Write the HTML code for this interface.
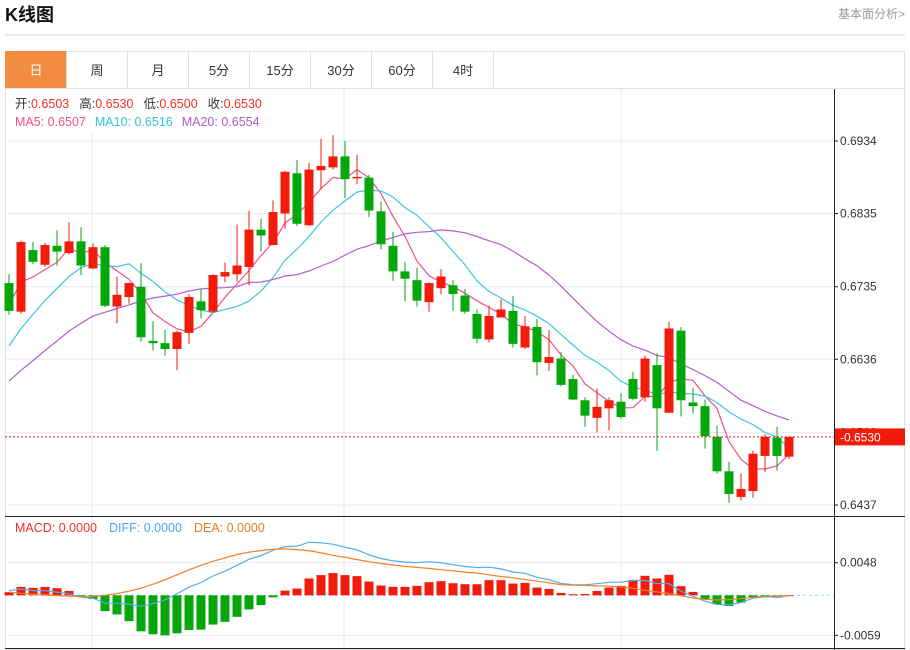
<!DOCTYPE html>
<html><head><meta charset="utf-8">
<style>
body{margin:0;background:#fff;width:910px;height:650px;overflow:hidden;font-family:"Liberation Sans","Noto Sans CJK SC",sans-serif;}
svg{display:block}
</style></head>
<body>
<svg id="c" width="910" height="650" xmlns="http://www.w3.org/2000/svg">
<text x="5" y="21" font-size="18" font-weight="bold" fill="#111" font-family="Liberation Sans,Noto Sans CJK SC,sans-serif">K线图</text>
<text x="905" y="18" font-size="12" fill="#999" text-anchor="end" font-family="Liberation Sans,Noto Sans CJK SC,sans-serif">基本面分析&gt;</text>
<line x1="5" y1="35" x2="905" y2="35" stroke="#d6d6d6"/>
<rect x="5.5" y="51.5" width="899" height="598" fill="none" stroke="#e0e0e0"/>
<g id="tabs" font-size="13" fill="#333" font-family="Liberation Sans,Noto Sans CJK SC,sans-serif"></g>
<line x1="5" y1="88.5" x2="905" y2="88.5" stroke="#e0e0e0"/>
<g id="grid"></g>
<g id="ma"></g>
<g id="candles"></g>
<g id="macd"></g>
<g id="axis" font-size="12" fill="#333"></g>
<rect x="6" y="90" width="294" height="42" fill="#fff"/>
<text x="15" y="108" font-size="12.5" font-family="Liberation Sans,Noto Sans CJK SC,sans-serif"><tspan fill="#333">开:</tspan><tspan fill="#f0302a">0.6503</tspan><tspan fill="#333" dx="10">高:</tspan><tspan fill="#f0302a">0.6530</tspan><tspan fill="#333" dx="10">低:</tspan><tspan fill="#f0302a">0.6500</tspan><tspan fill="#333" dx="10">收:</tspan><tspan fill="#f0302a">0.6530</tspan></text>
<text x="15" y="126" font-size="12.5" font-family="Liberation Sans,sans-serif"><tspan fill="#f0508a">MA5: 0.6507</tspan><tspan fill="#2ec6dc" dx="9">MA10: 0.6516</tspan><tspan fill="#b05cc8" dx="9">MA20: 0.6554</tspan></text>
<text x="15" y="532" font-size="12.5" font-family="Liberation Sans,sans-serif"><tspan fill="#f0302a">MACD: 0.0000</tspan><tspan fill="#4aa6f0" dx="12">DIFF: 0.0000</tspan><tspan fill="#f07a20" dx="12">DEA: 0.0000</tspan></text>
</svg>
<script>
const opens=[0.6740,0.6701,0.6785,0.6765,0.6791,0.6781,0.6797,0.6760,0.6789,0.6708,0.6721,0.6735,0.6661,0.6658,0.6650,0.6672,0.6715,0.6701,0.6749,0.6752,0.6762,0.6813,0.6792,0.6835,0.6890,0.6819,0.6894,0.6898,0.6913,0.6883,0.6884,0.6838,0.6791,0.6756,0.6744,0.6714,0.6733,0.6737,0.6723,0.6698,0.6663,0.6693,0.6702,0.6652,0.6680,0.6631,0.6637,0.6609,0.6580,0.6556,0.6569,0.6578,0.6609,0.6584,0.6628,0.6563,0.6675,0.6577,0.6572,0.6530,0.6483,0.6448,0.6456,0.6504,0.6529,0.6503];
const highs=[0.6752,0.6798,0.6796,0.6795,0.6812,0.6823,0.6816,0.6794,0.6792,0.6749,0.6741,0.6767,0.6688,0.6676,0.6675,0.6725,0.6732,0.6752,0.6768,0.6820,0.6839,0.6828,0.6853,0.6893,0.6908,0.6904,0.6937,0.6942,0.6934,0.6915,0.6888,0.6851,0.6810,0.6769,0.6761,0.6741,0.6759,0.6744,0.6732,0.6704,0.6709,0.6718,0.6722,0.6695,0.6691,0.6676,0.6646,0.6615,0.6584,0.6596,0.6584,0.6590,0.6619,0.6641,0.6644,0.6687,0.6680,0.6597,0.6581,0.6545,0.6496,0.6480,0.6511,0.6534,0.6544,0.6530];
const lows=[0.6697,0.6698,0.6766,0.6762,0.6764,0.6779,0.6751,0.6759,0.6707,0.6685,0.6712,0.6660,0.6648,0.6641,0.6621,0.6657,0.6692,0.6700,0.6741,0.6742,0.6737,0.6783,0.6792,0.6814,0.6818,0.6818,0.6868,0.6895,0.6856,0.6875,0.6830,0.6786,0.6743,0.6715,0.6708,0.6701,0.6725,0.6702,0.6698,0.6658,0.6659,0.6693,0.6652,0.6650,0.6614,0.6620,0.6599,0.6580,0.6544,0.6536,0.6539,0.6555,0.6580,0.6578,0.6511,0.6563,0.6558,0.6562,0.6514,0.6480,0.6440,0.6443,0.6447,0.6482,0.6484,0.6500];
const closes=[0.6702,0.6796,0.6769,0.6792,0.6783,0.6797,0.6764,0.6789,0.6709,0.6724,0.6740,0.6666,0.6658,0.6650,0.6673,0.6721,0.6703,0.6751,0.6755,0.6764,0.6813,0.6805,0.6837,0.6892,0.6821,0.6895,0.6900,0.6913,0.6882,0.6885,0.6839,0.6793,0.6756,0.6746,0.6716,0.6740,0.6749,0.6725,0.6701,0.6664,0.6695,0.6704,0.6657,0.6681,0.6632,0.6639,0.6601,0.6581,0.6559,0.6571,0.6580,0.6557,0.6582,0.6637,0.6569,0.6678,0.6580,0.6572,0.6531,0.6483,0.6452,0.6459,0.6507,0.6530,0.6504,0.6530];
const priorCloses=[0.6500,0.6505,0.6515,0.6520,0.6530,0.6550,0.6590,0.6610,0.6620,0.6640,0.6560,0.6575,0.6600,0.6620,0.6635,0.6641,0.6734,0.6742,0.6733];
const macdHist=[0.00045,0.00124,0.00109,0.00124,0.00104,0.00064,-0.00015,-0.00054,-0.00233,-0.00282,-0.00381,-0.0053,-0.00574,-0.00589,-0.0056,-0.0051,-0.00505,-0.00431,-0.00391,-0.00317,-0.00208,-0.00144,-0.0003,0.00069,0.00099,0.00248,0.00297,0.00327,0.00297,0.00282,0.00203,0.00144,0.00124,0.00124,0.00139,0.00193,0.00208,0.00178,0.00163,0.00163,0.00223,0.00223,0.00173,0.00183,0.00114,0.00094,0.00035,0.00015,0.0002,0.00064,0.00114,0.00139,0.00228,0.00287,0.00248,0.00302,0.00134,0.0005,-0.00054,-0.00134,-0.00158,-0.00109,-0.00025,-0.00015,-0.00035,0];
const deaVals=[0.00045,0.0003,0.00015,0.00005,-0.00005,-0.0001,-0.0002,-0.00015,0,0.00025,0.0006,0.00104,0.00163,0.00228,0.00302,0.00376,0.00441,0.005,0.0055,0.006,0.00634,0.00658,0.00678,0.00683,0.00673,0.00658,0.00624,0.00589,0.00559,0.00525,0.00495,0.0047,0.00446,0.00426,0.00411,0.00396,0.00376,0.00361,0.00342,0.00327,0.00302,0.00277,0.00257,0.00233,0.00208,0.00183,0.00158,0.00149,0.00144,0.00139,0.00134,0.00124,0.00104,0.00074,0.0005,0.0002,-0.00005,-0.0004,-0.0006,-0.00069,-0.00064,-0.0005,-0.0003,-0.00015,-0.0001,-0.00005];
const priceTicks=[0.6934,0.6835,0.6735,0.6636,0.6536,0.6437];
const macdTicks=[0.0048,-0.0059];
const tabLabels=["日","周","月","5分","15分","30分","60分","4时"];

const NS="http://www.w3.org/2000/svg";
function mk(tag,attrs,parent){const e=document.createElementNS(NS,tag);for(const k in attrs)e.setAttribute(k,attrs[k]);parent.appendChild(e);return e;}
const xOf=i=>9+i*12;
const yP=p=>141+(0.6934-p)*(364/0.0497);
const yM=v=>595.3-v*(72.7/0.0107);
const RED="#f01b0a",GREEN="#05a70b";

const tabs=document.getElementById('tabs');
tabLabels.forEach((t,i)=>{
  const x=5+i*61;
  const r=mk('rect',{x:x+0.5,y:51.5,width:61,height:37,fill:i===0?'#f28c40':'#fff',stroke:i===0?'#f28c40':'#e0e0e0'},tabs);
  
  
  const tx=mk('text',{x:x+31,y:75,'text-anchor':'middle',fill:i===0?'#fff':'#333'},tabs);
  
  
  tx.textContent=t;
});

const grid=document.getElementById('grid');
priceTicks.forEach(p=>{mk('line',{x1:5,x2:834,y1:yP(p),y2:yP(p),stroke:'#e4ecf2'},grid);});
macdTicks.forEach(v=>{mk('line',{x1:5,x2:834,y1:yM(v),y2:yM(v),stroke:'#e4ecf2'},grid);});
[92,344,621].forEach(x=>{mk('line',{x1:x,x2:x,y1:89,y2:648,stroke:'#e4ecf2'},grid);});
mk('line',{x1:5,x2:905,y1:516.5,y2:516.5,stroke:'#222'},grid);
mk('line',{x1:5,x2:834,y1:yM(0),y2:yM(0),stroke:'#9fd8ee','stroke-dasharray':'3,3'},grid);
mk('line',{x1:5,x2:905,y1:648.5,y2:648.5,stroke:'#222'},grid);

const all=priorCloses.concat(closes);
function ma(n){const out=[];for(let i=0;i<closes.length;i++){const j=i+priorCloses.length;let s=0;for(let k=j-n+1;k<=j;k++)s+=all[k];out.push(s/n);}return out;}
const maG=document.getElementById('ma');
[[5,'#f0508a','ma5-line'],[10,'#3cc8e0','ma10-line'],[20,'#b55ed0','ma20-line']].forEach(([n,c,name])=>{
  const v=ma(n);
  const pl=mk('polyline',{points:v.map((p,i)=>xOf(i)+','+yP(p).toFixed(1)).join(' '),fill:'none',stroke:c,'stroke-width':1.2},maG);
  
  
});

const cg=document.getElementById('candles');
closes.forEach((c,i)=>{
  const o=opens[i],up=c>=o,col=up?RED:GREEN,x=xOf(i);
  const g=mk('g',{},cg);
  
  
  mk('line',{x1:x,x2:x,y1:yP(highs[i]),y2:yP(lows[i]),stroke:col,'stroke-width':1},g);
  const t=yP(Math.max(o,c)),b=yP(Math.min(o,c));
  mk('rect',{x:x-4.5,y:t,width:9,height:Math.max(1,b-t),fill:col},g);
});

const lastY=yP(closes[closes.length-1]);
mk('line',{x1:5,x2:834,y1:lastY,y2:lastY,stroke:'#f01b0a','stroke-dasharray':'2,2','stroke-width':1},cg);

const mg=document.getElementById('macd');
macdHist.forEach((v,i)=>{
  const y0=yM(0),y1=yM(v);
  const r=mk('rect',{x:xOf(i)-4.5,y:Math.min(y0,y1),width:9,height:Math.max(0.8,Math.abs(y1-y0)),fill:v>=0?RED:GREEN},mg);
  
  
});
const diffVals=deaVals.map((d,i)=>d+macdHist[i]/2);
[[diffVals,'#55aaf0','diff-line'],[deaVals,'#f58025','dea-line']].forEach(([arr,c,name])=>{
  const pl=mk('polyline',{points:arr.map((v,i)=>xOf(i)+','+yM(v).toFixed(1)).join(' '),fill:'none',stroke:c,'stroke-width':1.2},mg);
  
  
});

const ax=document.getElementById('axis');
mk('line',{x1:834.5,x2:834.5,y1:89,y2:650,stroke:'#222'},ax);
priceTicks.forEach(p=>{
  mk('line',{x1:834,x2:838,y1:yP(p),y2:yP(p),stroke:'#222'},ax);
  const t=mk('text',{x:840,y:yP(p)+4},ax);
  
  
  t.textContent=p.toFixed(4);
});
macdTicks.forEach(v=>{
  mk('line',{x1:834,x2:838,y1:yM(v),y2:yM(v),stroke:'#222'},ax);
  const t=mk('text',{x:840,y:yM(v)+4},ax);
  
  
  t.textContent=v.toFixed(4);
});
const lab=mk('rect',{x:835,y:lastY-8.5,width:70,height:17,fill:'#f01b0a'},ax);


const lt=mk('text',{x:840,y:lastY+4.5,fill:'#fff'},ax);


lt.textContent='-'+closes[closes.length-1].toFixed(4);
</script>
</body></html>
